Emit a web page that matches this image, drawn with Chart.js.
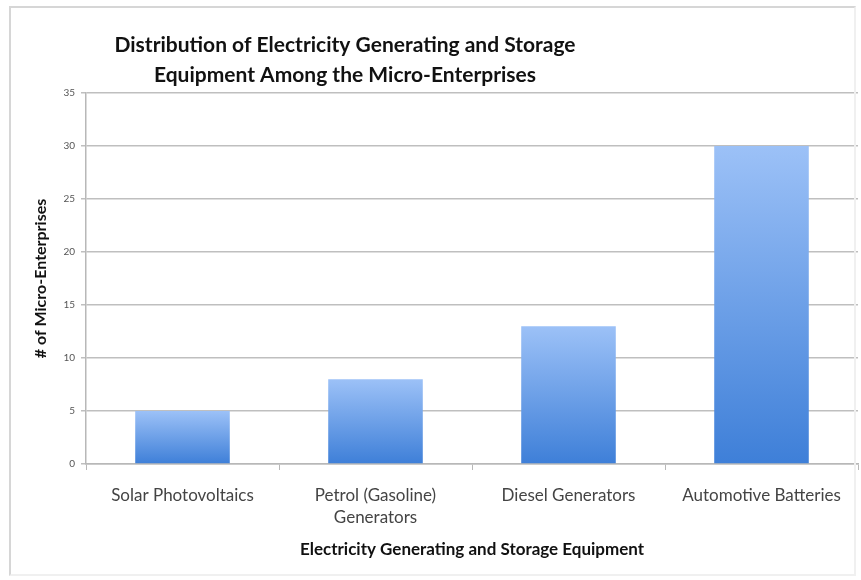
<!DOCTYPE html>
<html>
<head>
<meta charset="utf-8">
<script src="https://cdn.jsdelivr.net/npm/chart.js@4/dist/chart.umd.min.js"></script>
<style>
  html, body { margin: 0; padding: 0; background: #ffffff; }
  #wrap { position: relative; width: 861px; height: 580px; }
  #frame { position: absolute; left: 9px; top: 6px; width: 843px; height: 566px;
           border: 2px solid #d6d6d6; border-right-color: #f0f0f0; border-bottom-color: #f0f0f0; pointer-events: none; }
  canvas { position: absolute; left: 0; top: 0; }
</style>
</head>
<body>
<div id="wrap">
  <canvas id="chart" width="861" height="580"></canvas>
  <div id="frame"></div>
</div>
<script>
// Equipment categories (multi-line labels where the text wraps)
const categories = [
  ['Solar Photovoltaics'],
  ['Petrol (Gasoline)', 'Generators'],
  ['Diesel Generators'],
  ['Automotive Batteries']
];
// Number of micro-enterprises owning each kind of equipment
const enterpriseCounts = [5, 8, 13, 30];
// Value axis range
const yMin = 0;
const yMax = 35;
const yStep = 5;

const titleLines = [
  'Distribution of Electricity Generating and Storage',
  'Equipment Among the Micro-Enterprises'
];
const xTitle = 'Electricity Generating and Storage Equipment';
const yTitle = '# of Micro-Enterprises';

const FONT = 'Lato, "Open Sans", sans-serif';

// Vertical gradient for each bar: light at its top, deeper blue at its base
function barGradient(context) {
  const chart = context.chart;
  const yScale = chart.scales && chart.scales.y;
  if (!chart.chartArea || !yScale) return '#6a9de6';
  const v = context.raw;
  const top = yScale.getPixelForValue(v);
  const base = yScale.getPixelForValue(0);
  const g = chart.ctx.createLinearGradient(0, top, 0, base);
  g.addColorStop(0, '#9cc1f7');
  g.addColorStop(1, '#3e7fd8');
  return g;
}

// Two-line heading drawn above the plot
const headingPlugin = {
  id: 'heading',
  afterDraw(chart) {
    const ctx = chart.ctx;
    ctx.save();
    ctx.font = 'bold 21px ' + FONT;
    ctx.fillStyle = '#111111';
    ctx.textAlign = 'center';
    ctx.textBaseline = 'middle';
    ctx.fillText(titleLines[0], 345, 45);
    ctx.fillText(titleLines[1], 345, 75);
    ctx.restore();
  }
};

new Chart(document.getElementById('chart'), {
  type: 'bar',
  data: {
    labels: categories,
    datasets: [{
      data: enterpriseCounts,
      backgroundColor: barGradient,
      borderWidth: 0,
      barPercentage: 0.49,
      categoryPercentage: 1.0
    }]
  },
  options: {
    responsive: false,
    animation: false,
    layout: { padding: { top: 93, right: 3, left: 28, bottom: 0 } },
    plugins: {
      legend: { display: false },
      tooltip: { enabled: false },
      title: { display: false }
    },
    scales: {
      x: {
        grid: {
          display: true,
          drawOnChartArea: false,
          drawTicks: true,
          tickLength: 6,
          color: '#b8b8b8',
          offset: true
        },
        border: { display: true, color: '#b8b8b8', width: 1.5 },
        ticks: {
          color: '#444444',
          font: { family: FONT, size: 17, lineHeight: 1.3 },
          padding: 14,
          maxRotation: 0,
          autoSkip: false
        },
        title: {
          display: true,
          text: xTitle,
          color: '#111111',
          font: { family: FONT, size: 17, weight: 'bold' },
          padding: { top: 10, bottom: 20 }
        },
        afterFit(scale) { scale.height = 116; }
      },
      y: {
        min: yMin,
        max: yMax,
        ticks: {
          stepSize: yStep,
          color: '#555555',
          font: { family: FONT, size: 10 },
          padding: 6
        },
        grid: {
          color: '#bfbfbf',
          lineWidth: 1.5,
          tickLength: 5,
          drawTicks: true
        },
        border: { display: true, color: '#b8b8b8', width: 1.5 },
        title: {
          display: true,
          text: yTitle,
          color: '#111111',
          font: { family: FONT, size: 16, weight: 'bold' },
          padding: { top: 3, bottom: 4 }
        },
        afterFit(scale) { scale.width = 58; }
      }
    }
  },
  plugins: [headingPlugin]
});
</script>
</body>
</html>
